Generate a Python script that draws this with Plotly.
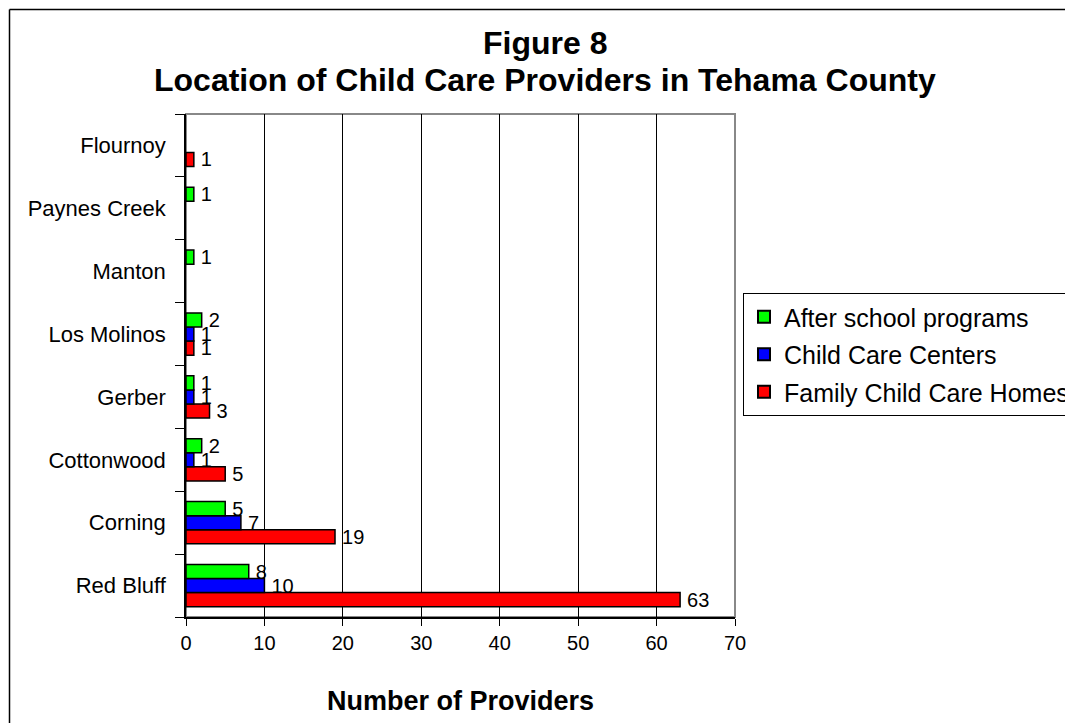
import plotly.graph_objects as go

categories = ["Red Bluff", "Corning", "Cottonwood", "Gerber", "Los Molinos", "Manton", "Paynes Creek", "Flournoy"]
after_school = [8, 5, 2, 1, 2, 1, 1, None]
centers = [10, 7, 1, 1, 1, None, None, None]
family_homes = [63, 19, 5, 3, 1, None, None, 1]
x_ticks = [0, 10, 20, 30, 40, 50, 60, 70]

FONT = "Liberation Sans, Arial, sans-serif"
W, H = 1073, 723
OFF = 8  # page body margin
L, T = 186 - OFF, 114 - OFF
R = W - (735 - OFF)
B = H - (617 - OFF)
pw, ph = W - L - R, H - T - B

def px_x(p):
    return (p - OFF - L) / pw

def px_y(p):
    return 1 - (p - OFF - T) / ph

fig = go.Figure()
series = [
    ("Family Child Care Homes", family_homes, "#FF0000", 3),
    ("Child Care Centers", centers, "#0000FF", 2),
    ("After school programs", after_school, "#00FF00", 1),
]
for name, vals, col, rank in series:
    fig.add_trace(go.Bar(
        y=categories, x=vals, name=name, orientation="h",
        legendgroup=name, legendrank=rank,
        marker=dict(color=col, line=dict(color="black", width=1.5)),
        text=["\u2009" + str(v) if v else "" for v in vals],
        textposition="outside", cliponaxis=False, constraintext="none",
        textfont=dict(family=FONT, size=20, color="black"),
    ))

fig.update_layout(
    width=W, height=H,
    margin=dict(l=L, r=R, t=T, b=B, autoexpand=False),
    paper_bgcolor="white", plot_bgcolor="white",
    barmode="group", bargap=0.33, bargroupgap=0,
    font=dict(family=FONT, color="black", size=20),
    annotations=[
        dict(text="<b>Figure 8</b>", xref="paper", yref="paper",
             x=px_x(545), y=px_y(43), xanchor="center", yanchor="middle",
             showarrow=False, font=dict(family=FONT, size=32, color="black")),
        dict(text="<b>Location of Child Care Providers in Tehama County</b>", xref="paper", yref="paper",
             x=px_x(545), y=px_y(80), xanchor="center", yanchor="middle",
             showarrow=False, font=dict(family=FONT, size=32, color="black")),
    ],
    legend=dict(
        x=px_x(743), y=px_y(293), xanchor="left", yanchor="top",
        traceorder="grouped", bordercolor="black", borderwidth=1,
        bgcolor="white", font=dict(family=FONT, size=25, color="black"),
        itemsizing="constant", tracegroupgap=2,
    ),
    xaxis=dict(
        range=[0, 70], tickvals=x_ticks, ticktext=[str(t) for t in x_ticks],
        showgrid=True, gridcolor="black", gridwidth=1,
        showline=True, linecolor="black", linewidth=1.5,
        ticks="outside", ticklen=7, tickcolor="black",
        tickfont=dict(family=FONT, size=20), zeroline=False,
        title=dict(text="<b>Number of Providers</b>", font=dict(family=FONT, size=27), standoff=38),
    ),
    yaxis=dict(
        categoryorder="array", categoryarray=categories,
        showline=True, linecolor="black", linewidth=1.5,
        ticks="outside", tickson="boundaries", ticklen=9, tickcolor="black",
        tickfont=dict(family=FONT, size=22), showgrid=False, ticklabelstandoff=14,
    ),
    shapes=[
        dict(type="rect", xref="paper", yref="paper", x0=0, x1=1, y0=0, y1=1,
             line=dict(color="#888888", width=2), layer="below"),
        dict(type="line", xref="paper", yref="paper",
             x0=px_x(9.5), x1=px_x(9.5), y0=px_y(1000), y1=px_y(9.5),
             line=dict(color="black", width=1.5), layer="below"),
        dict(type="line", xref="paper", yref="paper",
             x0=px_x(9.5), x1=px_x(1300), y0=px_y(9.5), y1=px_y(9.5),
             line=dict(color="black", width=1.5), layer="below"),
    ],
)

fig.write_html("out.html")
